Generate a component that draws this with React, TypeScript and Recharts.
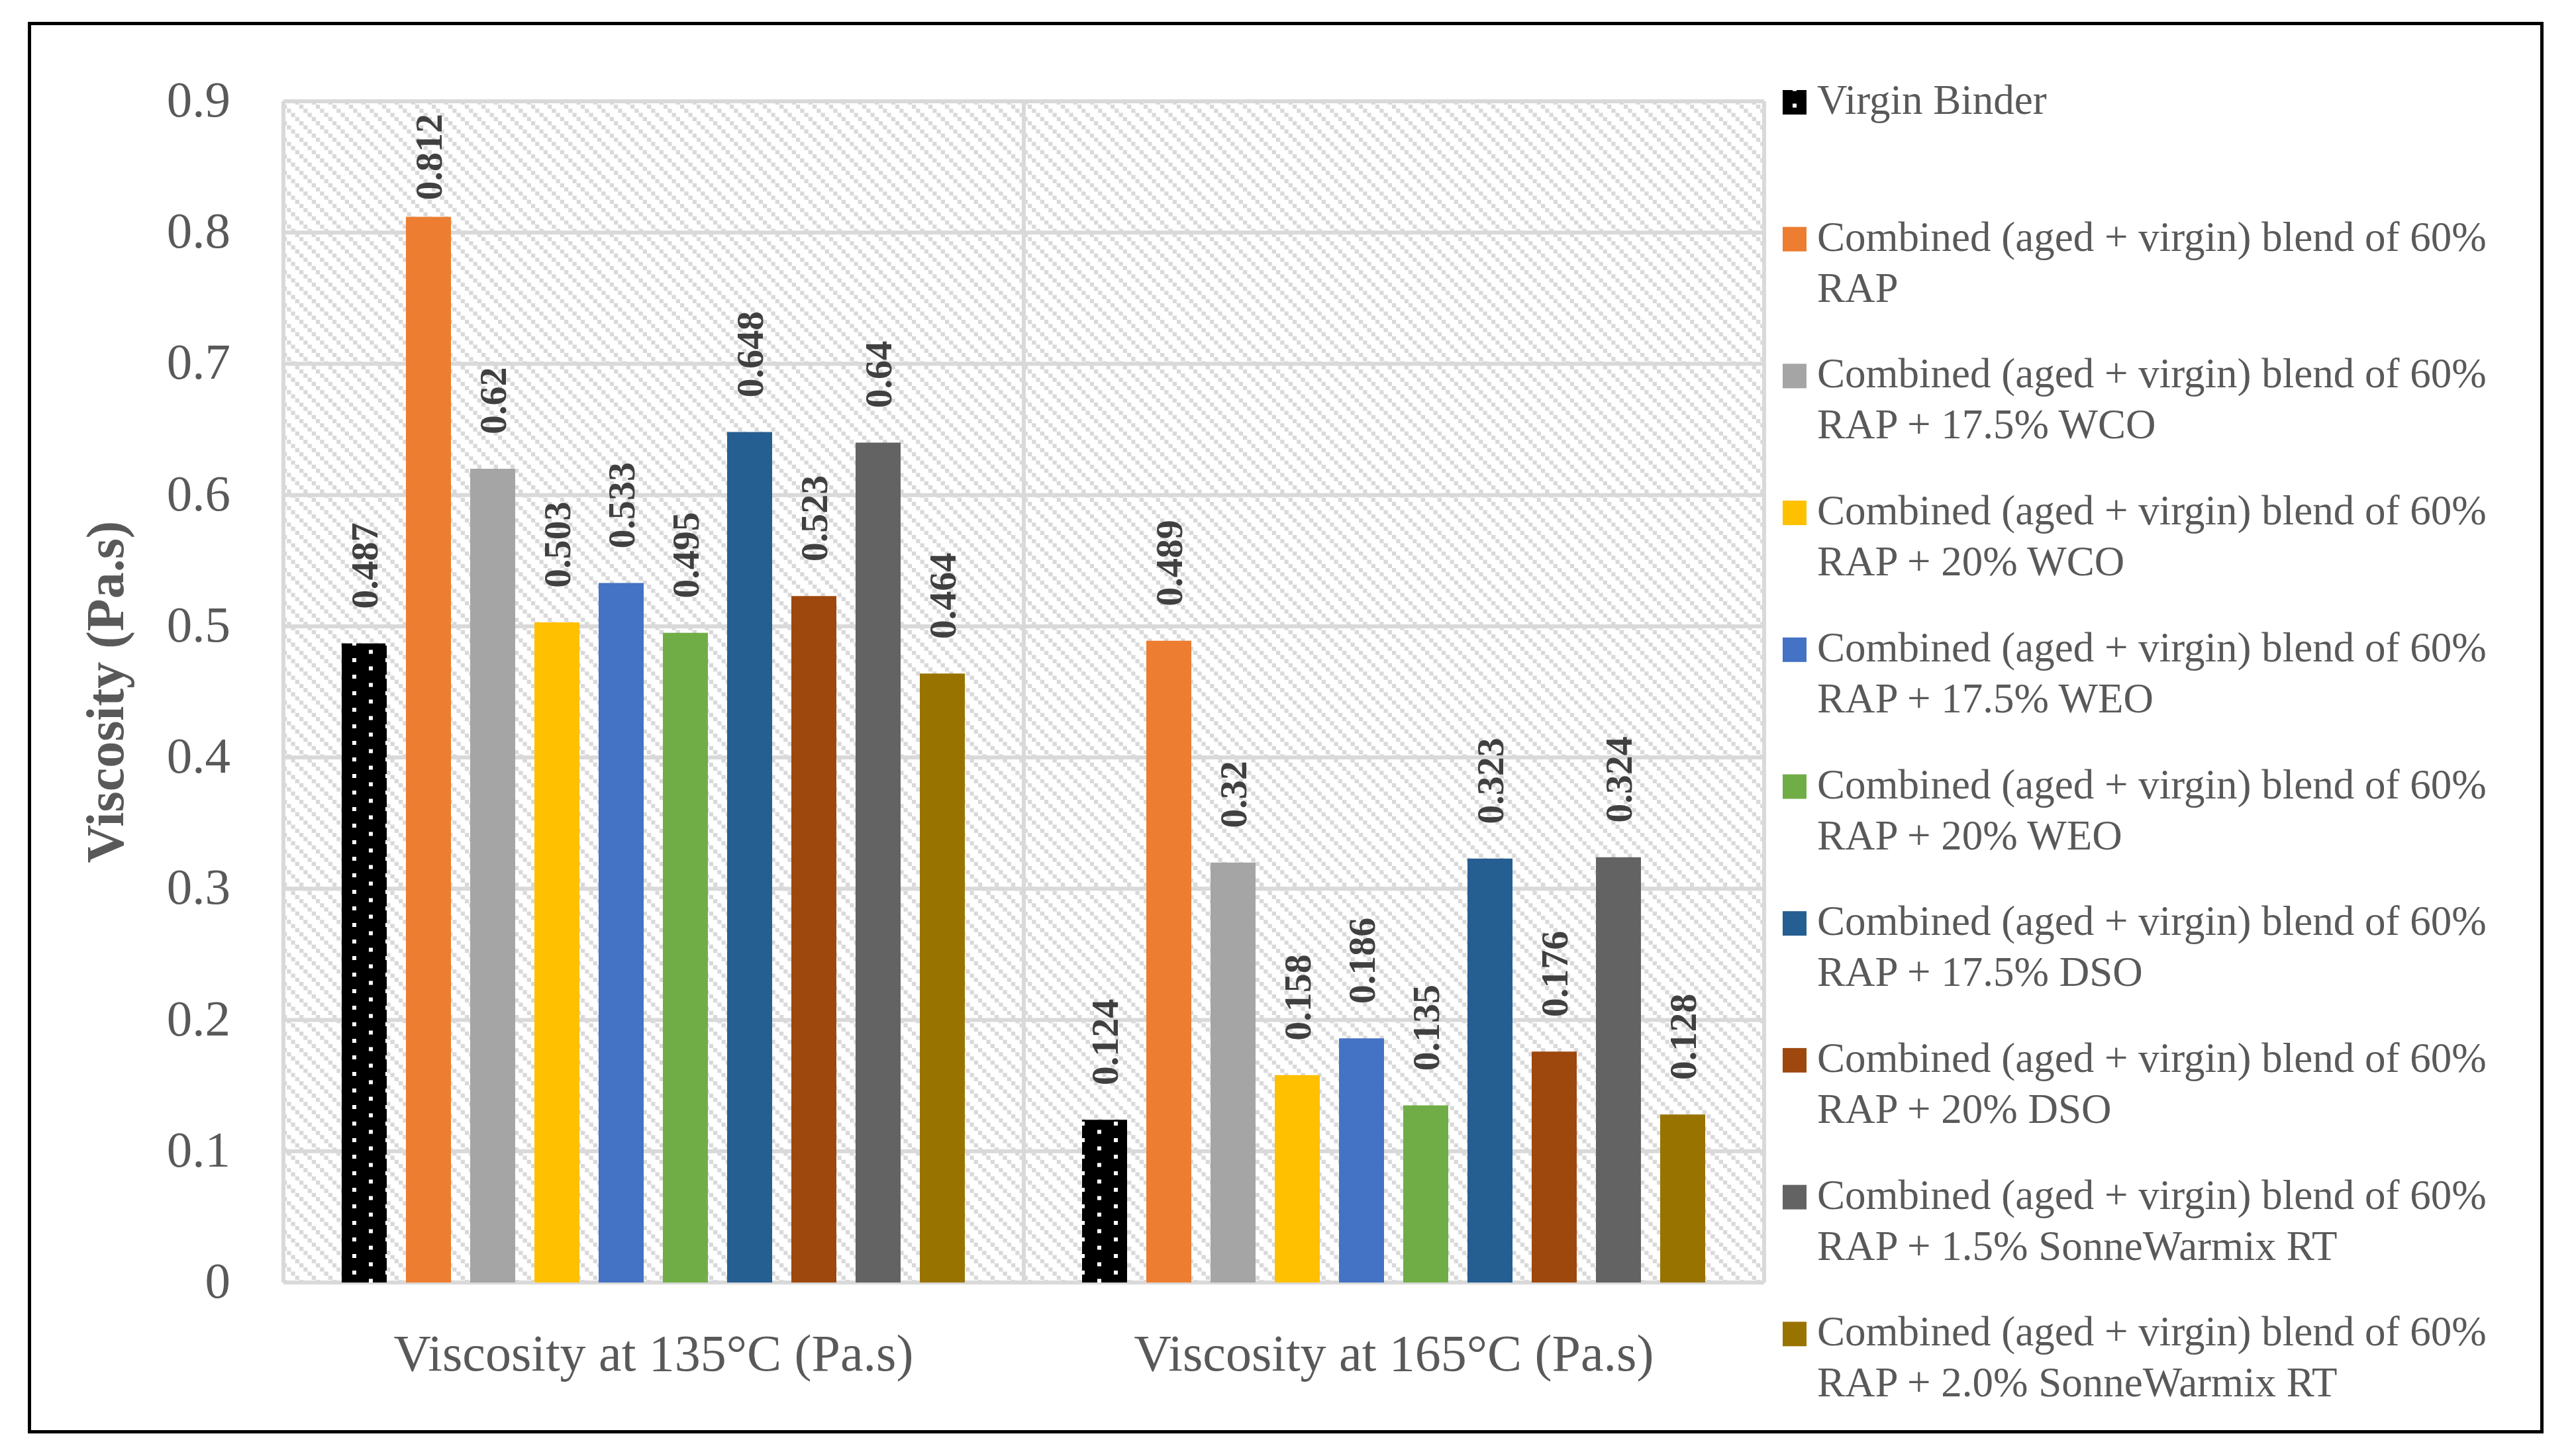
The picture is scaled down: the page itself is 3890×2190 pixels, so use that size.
import React from 'react';
import { BarChart, Bar, XAxis, YAxis, CartesianGrid, Legend, LabelList } from 'recharts';

const categories = ['Viscosity at 135°C (Pa.s)', 'Viscosity at 165°C (Pa.s)'];

const seriesNames = [
  'Virgin Binder',
  'Combined (aged + virgin) blend of 60% RAP',
  'Combined (aged + virgin) blend of 60% RAP + 17.5% WCO',
  'Combined (aged + virgin) blend of 60% RAP + 20% WCO',
  'Combined (aged + virgin) blend of 60% RAP + 17.5% WEO',
  'Combined (aged + virgin) blend of 60% RAP + 20% WEO',
  'Combined (aged + virgin) blend of 60% RAP + 17.5% DSO',
  'Combined (aged + virgin) blend of 60% RAP + 20% DSO',
  'Combined (aged + virgin) blend of 60% RAP + 1.5% SonneWarmix RT',
  'Combined (aged + virgin) blend of 60% RAP + 2.0% SonneWarmix RT',
];

const virginBinder = [0.487, 0.124];
const rap60 = [0.812, 0.489];
const rapWco175 = [0.62, 0.32];
const rapWco20 = [0.503, 0.158];
const rapWeo175 = [0.533, 0.186];
const rapWeo20 = [0.495, 0.135];
const rapDso175 = [0.648, 0.323];
const rapDso20 = [0.523, 0.176];
const rapSw15 = [0.64, 0.324];
const rapSw20 = [0.464, 0.128];

const yTicks = [0, 0.1, 0.2, 0.3, 0.4, 0.5, 0.6, 0.7, 0.8, 0.9];
const yTickLabels = ['0', '0.1', '0.2', '0.3', '0.4', '0.5', '0.6', '0.7', '0.8', '0.9'];

const seriesValues = [
  virginBinder, rap60, rapWco175, rapWco20, rapWeo175,
  rapWeo20, rapDso175, rapDso20, rapSw15, rapSw20,
];

const seriesColors = [
  'url(#dots)', '#ED7D31', '#A5A5A5', '#FFC000', '#4472C4',
  '#70AD47', '#255E91', '#9E480E', '#636363', '#997300',
];

const data = categories.map((c, i) => {
  const row: any = { category: c };
  seriesValues.forEach((vals, s) => {
    row['s' + s] = vals[i];
  });
  return row;
});

const W = 3874;
const H = 2174;
const PLOT_TOP = 145;
const FONT = '"Liberation Serif", "Times New Roman", serif';
const TEXT = '#595959';
const LABEL_SIZE = 58;

const renderYTick = (props: any) => {
  const { x, y, payload } = props;
  const idx = yTicks.indexOf(payload.value);
  const label = idx >= 0 ? yTickLabels[idx] : String(payload.value);
  return (
    <text x={x} y={y + 23} textAnchor="end" fontFamily={FONT} fontSize={77} fill={TEXT}>
      {label}
    </text>
  );
};

const renderXTick = (props: any) => {
  const { x, y, payload } = props;
  return (
    <text x={x} y={y + 133} textAnchor="middle" fontFamily={FONT} fontSize={78} fill={TEXT}>
      {payload.value}
    </text>
  );
};

const renderBarLabel = (props: any) => {
  const vb = props.viewBox || {};
  const x = props.x ?? vb.x;
  const y = props.y ?? vb.y;
  const width = props.width ?? vb.width;
  const value = String(props.value);
  const cx = Number(x) + Number(width) / 2;
  const digits = value.replace('.', '').length;
  const textLen = (digits * 0.5 + (value.includes('.') ? 0.25 : 0)) * LABEL_SIZE;
  let ty = Number(y) - 52;
  if (ty - textLen < PLOT_TOP + 19) ty = PLOT_TOP + 19 + textLen;
  return (
    <text
      x={cx}
      y={ty}
      dy="0.35em"
      textAnchor="start"
      transform={`rotate(-90, ${cx}, ${ty})`}
      fontFamily={FONT}
      fontWeight="bold"
      fontSize={LABEL_SIZE}
      fill="#404040"
    >
      {value}
    </text>
  );
};

const renderYLabel = (props: any) => {
  const vb = props.viewBox || { x: 0, y: 0, width: 0, height: 0 };
  const cx = vb.x + 150;
  const cy = vb.y + vb.height / 2;
  return (
    <text
      x={cx}
      y={cy}
      dy="0.35em"
      textAnchor="middle"
      transform={`rotate(-90, ${cx}, ${cy})`}
      fontFamily={FONT}
      fontWeight="bold"
      fontSize={80}
      fill={TEXT}
    >
      Viscosity (Pa.s)
    </text>
  );
};

const splitName = (name: string): [string, string | null] => {
  const idx = name.indexOf(' RAP');
  if (idx < 0) return [name, null];
  return [name.slice(0, idx), name.slice(idx + 1)];
};

const renderLegend = (props: any) => {
  const payload: any[] = props.payload || [];
  const items = seriesNames.map((name, i) => {
    const p = payload.find((e) => e.value === name);
    return { name, color: p && p.color ? p.color : seriesColors[i] };
  });
  return (
    <svg width={W} height={H} style={{ display: 'block', overflow: 'visible' }}>
      {items.map((it, i) => {
        const base = 164 + 206.7 * i;
        const [l1, l2] = splitName(it.name);
        return (
          <g key={it.name}>
            <rect x={2684} y={base - 36} width={36} height={37} fill={it.color} />
            <text x={2736} y={base} fontFamily={FONT} fontSize={63} fill={TEXT}>
              {l1}
            </text>
            {l2 && (
              <text x={2736} y={base + 77} fontFamily={FONT} fontSize={63} fill={TEXT}>
                {l2}
              </text>
            )}
          </g>
        );
      })}
    </svg>
  );
};

const verticalGen = (arg: any) => {
  const o = (arg && arg.offset) || { left: 420, width: 2236 };
  return [o.left, o.left + o.width / 2, o.left + o.width];
};

export default function App() {
  return (
    <div style={{ position: 'relative', width: W, height: H, background: '#fff' }}>
      <svg width={0} height={0} style={{ position: 'absolute', left: 0, top: 0 }}>
        <defs>
          <pattern id="hatch" patternUnits="userSpaceOnUse" x={19} y={0} width={25} height={25}>
            <rect x={0} y={0} width={25} height={25} fill="#FFFFFF" />
            {[0, 1, 2, 3].map((k) => (
              <rect key={k} x={k * 6.25} y={k * 6.25} width={6.25} height={6.25} fill="#D9D9D9" />
            ))}
          </pattern>
          <pattern id="dots" patternUnits="userSpaceOnUse" x={524} y={1211} width={50} height={25}>
            <rect x={0} y={0} width={50} height={25} fill="#000000" />
            <rect x={0} y={0} width={6} height={6} fill="#FFFFFF" />
            <rect x={25} y={12.5} width={6} height={6} fill="#FFFFFF" />
          </pattern>
        </defs>
      </svg>
      <div
        style={{
          position: 'absolute',
          left: 34,
          top: 25,
          width: 3799,
          height: 2132,
          border: '5px solid #000',
          boxSizing: 'border-box',
        }}
      />
      <div style={{ position: 'absolute', left: 0, top: 0 }}>
        <BarChart
          width={W}
          height={H}
          data={data}
          margin={{ top: PLOT_TOP, right: 1218, bottom: 0, left: 0 }}
          barCategoryGap={88}
          barGap={29}
        >
          <CartesianGrid
            stroke="#D9D9D9"
            strokeWidth={6}
            fill="url(#hatch)"
            fillOpacity={1}
            verticalCoordinatesGenerator={verticalGen}
          />
          <XAxis
            dataKey="category"
            height={245}
            axisLine={false}
            tickLine={false}
            tickSize={0}
            tickMargin={0}
            tick={renderXTick}
            interval={0}
          />
          <YAxis
            width={420}
            domain={[0, 0.9]}
            ticks={yTicks}
            interval={0}
            axisLine={false}
            tickLine={false}
            tickSize={0}
            tickMargin={80}
            tick={renderYTick}
            label={{ content: renderYLabel }}
          />
          <Legend
            layout="vertical"
            align="center"
            verticalAlign="middle"
            content={renderLegend}
            wrapperStyle={{ left: 0, top: 0, width: W, height: H, pointerEvents: 'none' }}
          />
          {seriesNames.map((name, s) => (
            <Bar
              key={name}
              dataKey={'s' + s}
              name={name}
              fill={seriesColors[s]}
              isAnimationActive={false}
            >
              <LabelList dataKey={'s' + s} content={renderBarLabel} />
            </Bar>
          ))}
        </BarChart>
      </div>
    </div>
  );
}
